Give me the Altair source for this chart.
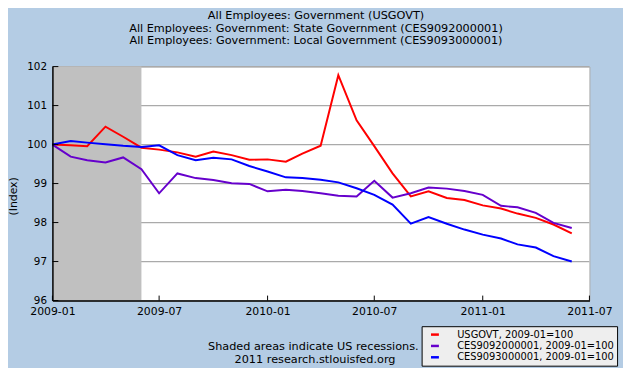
import altair as alt
import pandas as pd

# ---------------- data ----------------
months = [
    "2009-01-01", "2009-02-01", "2009-03-01", "2009-04-01", "2009-05-01", "2009-06-01",
    "2009-07-01", "2009-08-01", "2009-09-01", "2009-10-01", "2009-11-01", "2009-12-01",
    "2010-01-01", "2010-02-01", "2010-03-01", "2010-04-01", "2010-05-01", "2010-06-01",
    "2010-07-01", "2010-08-01", "2010-09-01", "2010-10-01", "2010-11-01", "2010-12-01",
    "2011-01-01", "2011-02-01", "2011-03-01", "2011-04-01", "2011-05-01", "2011-06-01",
]
usgovt = [100.0, 99.98, 99.96, 100.46, 100.2, 99.92, 99.87, 99.80, 99.69, 99.82,
          99.73, 99.61, 99.62, 99.56, 99.77, 99.97, 101.78, 100.62, 99.96, 99.26,
          98.67, 98.8, 98.63, 98.58, 98.44, 98.36, 98.23, 98.12, 97.95, 97.72]
state = [100.0, 99.69, 99.6, 99.54, 99.67, 99.37, 98.75, 99.26, 99.14, 99.09,
         99.01, 98.99, 98.8, 98.84, 98.81, 98.75, 98.69, 98.67, 99.07, 98.64,
         98.75, 98.9, 98.87, 98.81, 98.71, 98.43, 98.39, 98.25, 97.99, 97.86]
local = [100.0, 100.09, 100.05, 100.01, 99.97, 99.94, 99.98, 99.73, 99.6, 99.66,
         99.62, 99.45, 99.31, 99.16, 99.14, 99.1, 99.03, 98.88, 98.71, 98.46,
         97.97, 98.14, 97.97, 97.82, 97.69, 97.59, 97.44, 97.36, 97.14, 97.0]

series_names = ["USGOVT, 2009-01=100", "CES9092000001, 2009-01=100", "CES9093000001, 2009-01=100"]
series_colors = ["#FF0000", "#6600CC", "#0000FF"]

recession_start = ["2009-01-01"]
recession_end = ["2009-06-01"]

x_ticks = [(2009, 1), (2009, 7), (2010, 1), (2010, 7), (2011, 1), (2011, 7)]
y_ticks = [96, 97, 98, 99, 100, 101, 102]

title_lines = [
    "All Employees: Government (USGOVT)",
    "All Employees: Government: State Government (CES9092000001)",
    "All Employees: Government: Local Government (CES9093000001)",
]
footer = ["Shaded areas indicate US recessions.", "2011 research.stlouisfed.org"]

# ---------------- tables ----------------
rows = []
for name, vals in zip(series_names, [usgovt, state, local]):
    for d, v in zip(months, vals):
        rows.append({"date": d, "value": v, "series": name})
lines_df = pd.DataFrame(rows)
rec_df = pd.DataFrame({"date": recession_start, "date_end": recession_end})
xt_df = pd.DataFrame({"date": ["%d-%02d-01" % (y, m) for y, m in x_ticks]})
yt_df = pd.DataFrame({"value": y_ticks})
foot1_df = pd.DataFrame({"t": [footer[0]]})
foot2_df = pd.DataFrame({"t": [footer[1]]})

W, H = 544, 237
FONT = "DejaVu Sans"
TXT = 11.4

x_scale = alt.Scale(
    type="utc",
    domain=[alt.DateTime(year=2009, month=1, date=1, utc=True),
            alt.DateTime(year=2011, month=7, date=1, utc=True)],
)
y_scale = alt.Scale(domain=[96, 102], zero=False, nice=False)

x_axis = alt.Axis(
    values=[alt.DateTime(year=y, month=m, date=1, utc=True) for y, m in x_ticks],
    format="%Y-%m", title=None, grid=False, ticks=False, tickSize=0,
    labelFontSize=11, labelFont=FONT, labelColor="#000000", labelPadding=5,
    labelFlush=False, labelOverlap=False, domainColor="#000000", domainWidth=1.5,
    zindex=1,
)
y_axis = alt.Axis(
    values=y_ticks, format="d", title="(Index)", grid=False, ticks=False, tickSize=0,
    labelFontSize=10.5, labelFont=FONT, labelColor="#000000", labelPadding=6,
    labelOverlap=False, domainColor="#000000", domainWidth=1.5,
    titleFont=FONT, titleFontSize=11, titleFontWeight="normal", titleColor="#000000",
    titleX=-39, titleY=131, titleAlign="center", titleBaseline="middle", titleAngle=270,
    zindex=1,
)

X = alt.X("date:T", scale=x_scale, axis=x_axis)
Y = alt.Y("value:Q", scale=y_scale, axis=y_axis)

grid = alt.Chart(yt_df).mark_rule(color="#AAAAAA", strokeWidth=1.2).encode(y=Y)

recession = alt.Chart(rec_df).mark_rect(color="#C0C0C0").encode(x=X, x2="date_end:T")

lines = alt.Chart(lines_df).mark_line(strokeWidth=2).encode(
    x=X, y=Y,
    color=alt.Color(
        "series:N",
        scale=alt.Scale(domain=series_names, range=series_colors),
        sort=series_names,
        legend=alt.Legend(
            title=None, orient="none", legendX=374, legendY=263,
            fillColor="#EEEEEE", strokeColor="#000000", padding=3,
            symbolType="stroke", symbolSize=64, symbolStrokeWidth=2.5, symbolOffset=5,
            labelFont=FONT, labelFontSize=10, labelColor="#000000", labelLimit=300,
            labelOffset=17, rowPadding=0.5,
        ),
    ),
)

x_tick_marks = alt.Chart(xt_df).mark_rule(color="#000000", strokeWidth=1).encode(
    x=X, y=alt.value(H), y2=alt.value(H - 5)
)
y_tick_marks = alt.Chart(yt_df).mark_rule(color="#000000", strokeWidth=1).encode(
    y=Y, x=alt.value(0), x2=alt.value(6)
)

foot1 = alt.Chart(foot1_df).mark_text(
    font=FONT, fontSize=TXT, align="right", baseline="middle", color="#000000"
).encode(text="t:N", x=alt.value(371), y=alt.value(284))
foot2 = alt.Chart(foot2_df).mark_text(
    font=FONT, fontSize=TXT, align="center", baseline="middle", color="#000000"
).encode(text="t:N", x=alt.value(266), y=alt.value(297))

chart = alt.layer(
    grid, recession, lines, x_tick_marks, y_tick_marks, foot1, foot2
).properties(
    width=W, height=H,
    title=alt.Title(
        text=title_lines, font=FONT, fontSize=TXT, fontWeight="normal", color="#000000",
        anchor="middle", frame="group", dx=-5, offset=4, lineHeight=13, baseline="bottom",
    ),
    autosize=alt.AutoSizeParams(type="none"),
    padding={"left": 45, "top": 57, "right": 34, "bottom": 66},
    background="#B4CCE4",
).configure(
    font=FONT
).configure_view(
    stroke="#AAAAAA", strokeWidth=1, fill="#FFFFFF"
)

chart.save("out.html", embed_options={"renderer": "svg", "actions": False})
